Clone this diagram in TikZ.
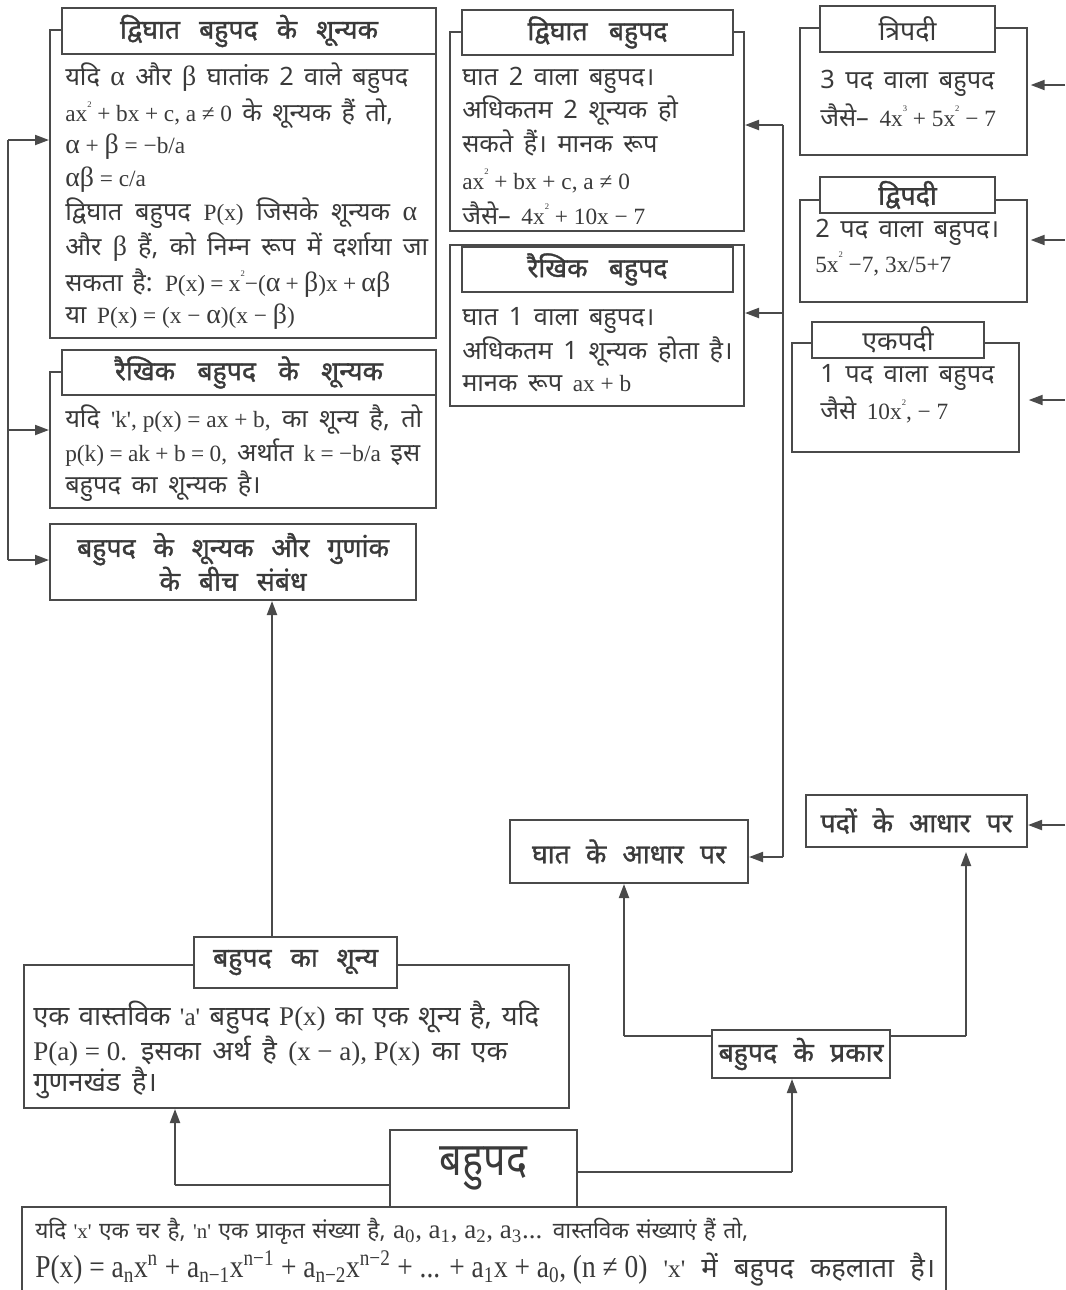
\documentclass[tikz,border=0pt]{standalone}
\usepackage{fontspec}
\usetikzlibrary{arrows.meta,fit}
\setmainfont{Noto Sans}[Script=Devanagari]
\newfontfamily\hdfont{Noto Sans}[Script=Devanagari, FakeBold=1.2]
\newfontfamily\ser{Liberation Serif}[Scale=0.92]
\newfontfamily\grk{Liberation Serif}[Scale=1.1]
\definecolor{lc}{HTML}{4A4A4A}
\definecolor{tc}{HTML}{3A3A3A}
\newdimen\px \px=0.75pt
% serif run for formulas, with the font's own word spaces
\newcommand\sr[1]{{\ser\spaceskip=0pt #1}}
\newcommand\al{{\grk α}}
\newcommand\be{{\grk β}}
\newcommand\up[1]{\textsuperscript{#1}}
\newcommand\dn[1]{\textsubscript{#1}}
% small raised exponent used inside the boxes
\newcommand\tp[1]{\raisebox{0.62em}{\fontsize{7pt}{7pt}\selectfont #1}}
\newcommand\q{\textquotesingle}
% a line spread to a given width (in px) at its word spaces
\newcommand\js[2]{\makebox[#1\px][s]{#2}}
\newcommand\wide{\spaceskip=0.42em plus 1fil minus 0.15em\relax}
\newcommand\slim{\spaceskip=0.3em plus 1fil minus 0.1em\relax}
\tikzset{
  frame/.style={draw=lc, line width=1.5pt, inner sep=0pt},
  ttl/.style={frame, fill=white},
  ln/.style={draw=lc, line width=1.5pt},
  arr/.style={draw=lc, line width=1.5pt, -{Triangle[length=10.5pt,width=7.5pt]}},
  tx/.style={text=tc, anchor=west, inner sep=0pt, font=\fontsize{19pt}{23pt}\selectfont\wide},
  txl/.style={text=tc, anchor=west, inner sep=0pt, font=\fontsize{20.5pt}{24pt}\selectfont\wide},
  txs/.style={text=tc, anchor=west, inner sep=0pt, font=\fontsize{17pt}{20pt}\selectfont\slim},
  hd/.style={text=tc, inner sep=0pt, font=\hdfont\fontsize{20pt}{24pt}\selectfont\wide},
  hdr/.style={text=tc, inner sep=0pt, font=\fontsize{20pt}{24pt}\selectfont\wide},
}
\begin{document}
\begin{tikzpicture}[x=0.75pt, y=-0.75pt]
\useasboundingbox (0,0) rectangle (1065,1290);

% ---- zeros of a quadratic polynomial
\node[frame, fit={(50,30) (436,338)}] (A) {};
\node[ttl, fit={(62,8) (436,54)}] (At) {};
\node[hd] (Ah) at (At.center) {\js{258}{द्विघात बहुपद के शून्यक}};
\node[tx] (A1) at (65,78)  {\js{343}{यदि \al{} और \be{} घातांक 2 वाले बहुपद}};
\node[tx] (A2) at (65,114) {\js{328}{\sr{ax\tp{2} + bx + c, a ≠ 0} के शून्यक हैं तो,}};
\node[tx] (A3) at (65,147) {\sr{\al{} + \be{} = −b/a}};
\node[tx] (A4) at (65,180) {\sr{\al\be{} = c/a}};
\node[tx] (A5) at (65,213) {\js{352}{द्विघात बहुपद \sr{P(x)} जिसके शून्यक \al}};
\node[tx] (A6) at (65,247) {\js{363}{और \be{} हैं, को निम्न रूप में दर्शाया जा}};
\node[tx] (A7) at (65,283) {\js{325}{सकता है: \sr{P(x) = x\tp{2}−(\al{} + \be)x + \al\be}}};
\node[tx] (A8) at (65,317) {या \sr{P(x) = (x − \al)(x − \be)}};

% ---- zeros of a linear polynomial
\node[frame, fit={(50,372) (436,508)}] (B) {};
\node[ttl, fit={(62,350) (436,395)}] (Bt) {};
\node[hd] (Bh) at (Bt.center) {\js{268}{रैखिक बहुपद के शून्यक}};
\node[tx] (B1) at (65,420) {\js{357}{यदि \sr{\q k\q, p(x) = ax + b,} का शून्य है, तो}};
\node[tx] (B2) at (65,453) {\js{355}{\sr{p(k) = ak + b = 0,} अर्थात \sr{k = −b/a} इस}};
\node[tx] (B3) at (65,486) {बहुपद का शून्यक है।};

% ---- relation between zeros and coefficients
\node[frame, fit={(50,524) (416,600)}] (C) {};
\node[hd, align=center] (Ch) at (C.center) {\js{312}{बहुपद के शून्यक और गुणांक}\\\js{147}{के बीच संबंध}};

% ---- quadratic polynomial
\node[frame, fit={(450,32) (744,231)}] (D) {};
\node[ttl, fit={(462,10) (733,55)}] (Dt) {};
\node[hd] (Dh) at (Dt.center) {\js{140}{द्विघात बहुपद}};
\node[tx] (D1) at (462,80)  {घात 2 वाला बहुपद।};
\node[tx] (D2) at (462,111) {अधिकतम 2 शून्यक हो};
\node[tx] (D3) at (462,143) {सकते हैं। मानक रूप};
\node[tx] (D4) at (462,181) {\sr{ax\tp{2} + bx + c, a ≠ 0}};
\node[tx] (D5) at (462,213) {जैसे– \sr{4x\tp{2} + 10x − 7}};

% ---- linear polynomial
\node[frame, fit={(450,245) (744,406)}] (E) {};
\node[ttl, fit={(462,247) (733,292)}] (Et) {};
\node[hd] (Eh) at (Et.center) {\js{140}{रैखिक बहुपद}};
\node[tx] (E1) at (462,320) {घात 1 वाला बहुपद।};
\node[tx] (E2) at (462,352) {अधिकतम 1 शून्यक होता है।};
\node[tx] (E3) at (462,384) {मानक रूप \sr{ax + b}};

% ---- trinomial
\node[frame, fit={(800,28) (1027,155)}] (F) {};
\node[ttl, fit={(820,6) (995,52)}] (Ft) {};
\node[hdr] (Fh) at (Ft.center) {त्रिपदी};
\node[tx] (F1) at (820,83)  {3 पद वाला बहुपद};
\node[tx] (F2) at (820,115) {जैसे– \sr{4x\tp{3} + 5x\tp{2} − 7}};

% ---- binomial
\node[frame, fit={(800,200) (1027,302)}] (G) {};
\node[ttl, fit={(820,177) (995,213)}] (Gt) {};
\node[hd] (Gh) at (Gt.center) {द्विपदी};
\node[tx] (G1) at (815,232) {2 पद वाला बहुपद।};
\node[tx] (G2) at (815,264) {\sr{5x\tp{2} −7, 3x/5+7}};

% ---- monomial
\node[frame, fit={(792,343) (1019,452)}] (H) {};
\node[ttl, fit={(812,322) (984,358)}] (Ht) {};
\node[hdr] (Hh) at (Ht.center) {एकपदी};
\node[tx] (H1) at (820,377) {1 पद वाला बहुपद};
\node[tx] (H2) at (820,410) {जैसे \sr{10x\tp{2}, − 7}};

% ---- classification boxes
\node[frame, fit={(806,795) (1027,847)}] (I) {};
\node[hd] (Ih) at (I.center) {\js{192}{पदों के आधार पर}};
\node[frame, fit={(510,820) (748,883)}] (J) {};
\node[hd] (Jh) at (J.center) {\js{194}{घात के आधार पर}};
\node[frame, fit={(712,1030) (890,1078)}] (K) {};
\node[hd] (Kh) at (K.center) {\js{165}{बहुपद के प्रकार}};

% ---- zero of a polynomial
\node[frame, fit={(24,965) (569,1108)}] (L) {};
\node[ttl, fit={(194,937) (397,988)}] (Lt) {};
\node[hd] (Lh) at (Lt.center) {\js{165}{बहुपद का शून्य}};
\node[txl] (L1) at (33,1018) {\js{506}{एक वास्तविक \sr{\q a\q} बहुपद \sr{\fontsize{22pt}{24pt}\selectfont P(x)} का एक शून्य है, यदि}};
\node[txl] (L2) at (33,1051) {\sr{\fontsize{22pt}{24pt}\selectfont P(a) = 0.} इसका अर्थ है \sr{\fontsize{22pt}{24pt}\selectfont (x − a), P(x)} का एक};
\node[txl] (L3) at (33,1083) {गुणनखंड है।};

% ---- polynomial (root) and its definition
\node[frame, fit={(22,1207) (946,1300)}] (N) {};
\node[frame, fill=white, fit={(390,1130) (577,1207)}] (M) {};
\node[text=tc, inner sep=0pt] (Mh) at (M.center) {\scalebox{0.9}[1.05]{\fontsize{33pt}{36pt}\selectfont बहुपद}};
\node[txs] (N1) at (35,1231) {\js{713}{यदि \sr{\q x\q} एक चर है, \sr{\q n\q} एक प्राकृत संख्या है, \sr{\fontsize{22pt}{24pt}\selectfont a\dn{0}, a\dn{1}, a\dn{2}, a\dn{3}...} वास्तविक संख्याएं हैं तो,}};
\node[txl] (N2) at (35,1268) {\js{900}{\scalebox{0.86}[1]{\sr{\fontsize{26pt}{28pt}\selectfont P(x) = a\dn{n}x\up{n} + a\dn{n−1}x\up{n−1} + a\dn{n−2}x\up{n−2} + ... + a\dn{1}x + a\dn{0}, (n ≠ 0)}} \sr{\q x\q} में बहुपद कहलाता है।}};

% ---- connectors: left spine
\coordinate (s1) at (8,140);
\coordinate (s2) at (8,430);
\coordinate (s3) at (8,560);
\draw[ln] (s1) -- (s3);
\draw[arr] (s1) -- (s1 -| A.west);
\draw[arr] (s2) -- (s2 -| B.west);
\draw[arr] (s3) -- (s3 -| C.west);

% ---- connectors: right spine
\coordinate (r1) at (783,125);
\coordinate (r2) at (783,313);
\coordinate (r3) at (783,857);
\draw[ln] (r1) -- (r3);
\draw[arr] (r1) -- (r1 -| D.east);
\draw[arr] (r2) -- (r2 -| E.east);
\draw[arr] (r3) -- (r3 -| J.east);

% ---- incoming arrows from the right margin
\coordinate (e1) at (1065,85);
\coordinate (e2) at (1065,240);
\coordinate (e3) at (1065,400);
\coordinate (e4) at (1065,825);
\draw[arr, shorten >=2pt] (e1) -- (e1 -| F.east);
\draw[arr, shorten >=2pt] (e2) -- (e2 -| G.east);
\draw[arr, shorten >=6.5pt] (e3) -- (e3 -| H.east);
\draw[arr] (e4) -- (e4 -| I.east);

% ---- tree connectors
\coordinate (z1) at (272,937);
\draw[arr] (z1) -- (z1 |- C.south);
\coordinate (k1) at (624,1036);
\coordinate (k2) at (966,1036);
\draw[ln] (K.west |- k1) -- (k1);
\draw[arr] (k1) -- (k1 |- J.south);
\draw[ln] (K.east |- k2) -- (k2);
\draw[arr, shorten >=3pt] (k2) -- (k2 |- I.south);
\coordinate (m1) at (175,1185);
\coordinate (m2) at (792,1172);
\draw[ln] (M.west |- m1) -- (m1);
\draw[arr] (m1) -- (m1 |- L.south);
\draw[ln] (M.east |- m2) -- (m2);
\draw[arr] (m2) -- (m2 |- K.south);
\end{tikzpicture}
\end{document}
